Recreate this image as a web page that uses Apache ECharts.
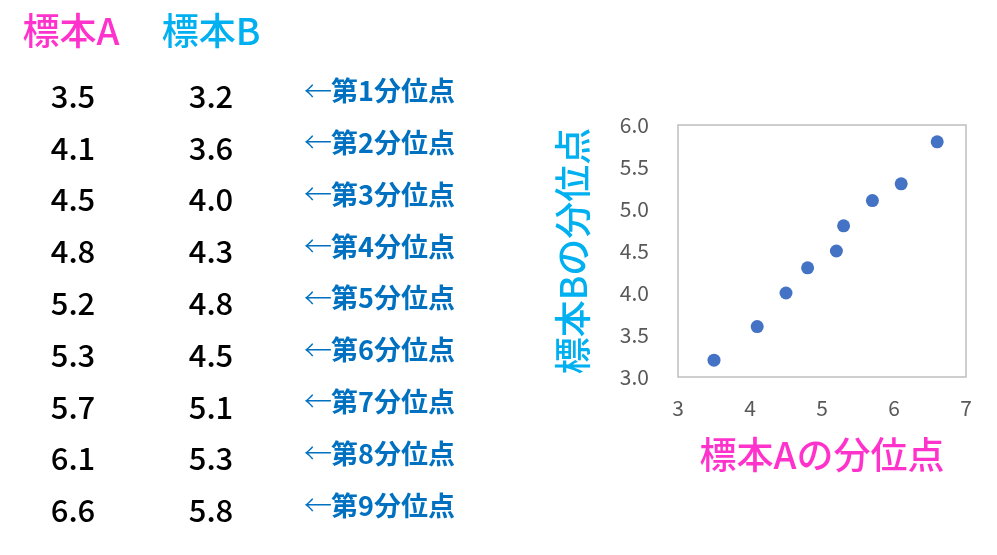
<!DOCTYPE html>
<html>
<head>
<meta charset="utf-8">
<script src="https://cdn.jsdelivr.net/npm/echarts@6/dist/echarts.min.js"></script>
<style>
  html, body { margin: 0; padding: 0; background: #fff; }
  #main { width: 997px; height: 555px; }
</style>
</head>
<body>
<div id="main"></div>
<script>
// 表の値（左側）
const tableA = ['3.5', '4.1', '4.5', '4.8', '5.2', '5.3', '5.7', '6.1', '6.6'];
const tableB = ['3.2', '3.6', '4.0', '4.3', '4.8', '4.5', '5.1', '5.3', '5.8'];
const rowLabels = ['第1分位点', '第2分位点', '第3分位点', '第4分位点', '第5分位点',
  '第6分位点', '第7分位点', '第8分位点', '第9分位点'];

// 散布図の点（図から読んだ値）
const plotA = [3.5, 4.1, 4.5, 4.8, 5.2, 5.3, 5.7, 6.1, 6.6];
const plotB = [3.2, 3.6, 4.0, 4.3, 4.5, 4.8, 5.1, 5.3, 5.8];

const FONT = '"Noto Sans CJK JP", "Noto Sans", sans-serif';
const PINK = '#FF33CC';
const CYAN = '#00B0F0';
const BLUE = '#0070C0';

const chart = echarts.init(document.getElementById('main'));

// 左の表はgraphicで描く
var graphics = [
  { type: 'text', x: 71, y: 31, style: { text: '標本A', fill: PINK, font: '500 37px ' + FONT, textAlign: 'center', textVerticalAlign: 'middle' } },
  { type: 'text', x: 211, y: 31, style: { text: '標本B', fill: CYAN, font: '500 37px ' + FONT, textAlign: 'center', textVerticalAlign: 'middle' } }
];
for (var i = 0; i < tableA.length; i++) {
  var y = 96 + i * 51.8;
  graphics.push({ type: 'text', x: 73, y: y, style: { text: tableA[i], fill: '#000', font: '500 31px ' + FONT, textAlign: 'center', textVerticalAlign: 'middle' } });
  graphics.push({ type: 'text', x: 211, y: y, style: { text: tableB[i], fill: '#000', font: '500 31px ' + FONT, textAlign: 'center', textVerticalAlign: 'middle' } });
  // 細い矢印
  graphics.push({ type: 'text', x: 304, y: y - 5, style: { text: '←', fill: BLUE, font: '300 28px ' + FONT, textAlign: 'left', textVerticalAlign: 'middle' } });
  graphics.push({ type: 'text', x: 331, y: y - 5, style: { text: rowLabels[i], fill: BLUE, font: 'bold 27px ' + FONT, textAlign: 'left', textVerticalAlign: 'middle' } });
}

var option = {
  backgroundColor: '#ffffff',
  animation: false,
  grid: {
    left: 678,
    right: 31,
    top: 125,
    bottom: 178,
    show: true,
    borderColor: '#BFBFBF',
    borderWidth: 1.5
  },
  xAxis: {
    type: 'value',
    min: 3,
    max: 7,
    interval: 1,
    name: '標本Aの分位点',
    nameLocation: 'middle',
    nameGap: 59,
    nameTextStyle: { color: PINK, fontSize: 37, fontWeight: 500, fontFamily: FONT },
    axisLine: { show: false },
    axisTick: { show: false },
    splitLine: { show: false },
    axisLabel: { color: '#595959', fontSize: 21, fontFamily: FONT, margin: 21 }
  },
  yAxis: {
    type: 'value',
    min: 3,
    max: 6,
    interval: 0.5,
    name: '標本Bの分位点',
    nameLocation: 'middle',
    nameRotate: 90,
    nameGap: 87,
    nameTextStyle: { color: CYAN, fontSize: 37, fontWeight: 500, fontFamily: FONT },
    axisLine: { show: false },
    axisTick: { show: false },
    splitLine: { show: false },
    axisLabel: {
      color: '#595959', fontSize: 21, fontFamily: FONT, margin: 29,
      formatter: function (v) { return v.toFixed(1); }
    }
  },
  series: [{
    type: 'scatter',
    symbolSize: 13,
    itemStyle: { color: '#4472C4', opacity: 1 },
    data: plotA.map(function (a, i) { return [a, plotB[i]]; })
  }],
  graphic: graphics
};

chart.setOption(option);
</script>
</body>
</html>
